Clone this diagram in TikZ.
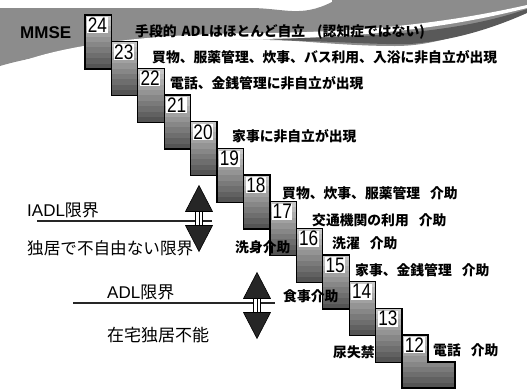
\documentclass[tikz,border=0pt]{standalone}
\usepackage{fontspec}
\setmainfont{Liberation Sans}
\newfontfamily\jp{Noto Sans CJK JP}
\definecolor{bandgray}{gray}{0.55}
\definecolor{banddark}{gray}{0.35}
\begin{document}
\begin{tikzpicture}[x=1pt,y=-1pt,
  boxedge/.style={draw=black, line width=1.3pt},
  numlab/.style={anchor=north west, fill=white, inner sep=0.6pt, font=\fontsize{21}{21}\selectfont},
  desc/.style={anchor=west, inner sep=0pt, font=\jp\bfseries\fontsize{13.8}{14}\selectfont},
  side/.style={anchor=west, inner sep=0pt, font=\fontsize{17}{18}\selectfont},
  limitline/.style={line width=1.3pt, draw=black!85},
  headfill/.style={fill=black!85, draw=black, line width=0.6pt},
  dblarr/.pic={
    \fill[headfill] (0,-33) -- (13.5,-7) -- (-13.5,-7) -- cycle;
    \fill[headfill] (0,33) -- (13.5,7) -- (-13.5,7) -- cycle;
    \draw[fill=white, line width=0.8pt] (-3.5,-7) rectangle (3.5,7);
    \draw[line width=0.8pt] (0,-7) -- (0,7);
  }
]
\useasboundingbox (0,0) rectangle (527,389);

% banner
\path[fill=bandgray] (0,8) -- (250,8) -- (250,39) .. controls (180,39) and (60,48) .. (0,66) -- cycle;
\path[fill=bandgray] (249,8) .. controls (285,8) and (300,18) .. (332,2) -- (332,0) -- (527,0) -- (527,10)
  .. controls (480,28) and (440,46) .. (395,46) .. controls (340,46) and (290,39) .. (249,39) -- cycle;
\path[fill=banddark] (270,40) .. controls (330,41) and (380,45) .. (410,44) .. controls (460,40) and (500,25) .. (527,13)
  -- (527,9) .. controls (480,25) and (420,36) .. (300,38) -- cycle;
\path[fill=white] (15,64) .. controls (60,46) and (140,34) .. (260,33) .. controls (380,32) and (460,20) .. (527,5)
  -- (527,8) .. controls (460,25) and (380,37) .. (260,39) .. controls (150,41) and (70,54) .. (15,66) -- cycle;
\node[anchor=west, inner sep=0pt, font=\bfseries\fontsize{17}{17}\selectfont] (mmse) at (20,33) {MMSE};

% steps
\foreach \k/\n in {0/24,1/23,2/22,3/21,4/20,5/19,6/18,7/17,8/16,9/15,10/14,11/13} {
  \pgfmathsetmacro\bx{85+26.42*\k}
  \pgfmathsetmacro\by{15+26.67*\k}
  \foreach \s in {0,...,9} {
    \pgfmathsetmacro\g{22+5*\s}
    \fill[black!\g] (\bx,\by+5.4*\s) rectangle ++(26.4,5.6);
  }
  \draw[boxedge] (\bx,\by) rectangle ++(26.4,54);
  \node[numlab] (n\n) at (\bx+2,\by+2) {\scalebox{0.82}[1]{\n}};
}
\begin{scope}
  \clip (402,335) -- (428,335) -- (428,362) -- (455,362) -- (455,388) -- (402,388) -- cycle;
  \foreach \s in {0,...,9} {
    \pgfmathsetmacro\g{22+5*\s}
    \fill[black!\g] (402,335+5.3*\s) rectangle ++(53,5.5);
  }
\end{scope}
\draw[boxedge] (402,335) -- (428,335) -- (428,362) -- (455,362) -- (455,388) -- (402,388) -- cycle;
\node[numlab] (n12) at (404,337) {\scalebox{0.82}[1]{12}};

% step descriptions
\node[desc] (t24) at (135,32) {手段的\hspace{5pt}ADLはほとんど自立\hspace{12pt}(認知症ではない)};
\node[desc] (t23) at (152,57) {買物、服薬管理、炊事、バス利用、入浴に非自立が出現};
\node[desc] (t22) at (170,83) {電話、金銭管理に非自立が出現};
\node[desc] (t20) at (232,136) {家事に非自立が出現};
\node[desc] (t18) at (282,193) {買物、炊事、服薬管理\hspace{10pt}介助};
\node[desc] (t17) at (312,220) {交通機関の利用\hspace{10pt}介助};
\node[desc] (t16) at (332,243) {洗濯\hspace{10pt}介助};
\node[desc] (t15) at (355,270) {家事、金銭管理\hspace{10pt}介助};
\node[desc] (t12) at (433,350) {電話\hspace{10pt}介助};
\node[desc] (wash) at (235,247) {洗身介助};
\node[desc] (meal) at (283,296) {食事介助};
\node[desc] (incont) at (333,352) {尿失禁};

% limits
\node[side] (iadl) at (27,210) {IADL{\jp 限界}};
\node[side, font=\jp\fontsize{16.6}{17}\selectfont] (alone) at (27,248) {独居で不自由ない限界};
\coordinate (iadlL) at (37,221);
\coordinate (iadlR) at (212,221);
\draw[limitline] (iadlL) -- (iadlR);
\pic at (199,218.5) {dblarr};

\node[side] (adl) at (107,292) {ADL{\jp 限界}};
\node[side, font=\jp\fontsize{17}{18}\selectfont] (home) at (107,335) {在宅独居不能};
\coordinate (adlL) at (73,303);
\coordinate (adlR) at (275,303);
\draw[limitline] (adlL) -- (adlR);
\pic at (257,305.5) {dblarr};
\end{tikzpicture}
\end{document}
